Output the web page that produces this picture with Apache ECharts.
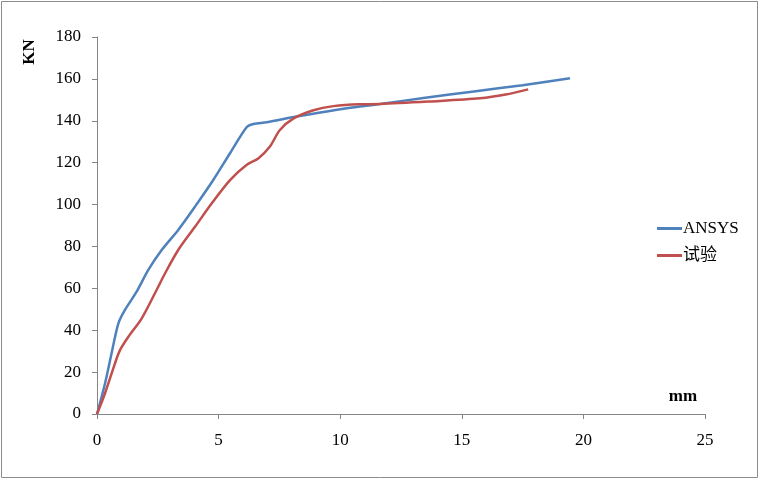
<!DOCTYPE html>
<html><head><meta charset="utf-8">
<script src="https://cdn.jsdelivr.net/npm/echarts@6/dist/echarts.min.js"></script>
<style>html,body{margin:0;padding:0;background:#fff;overflow:hidden}#c{width:760px;height:480px}</style>
</head><body><div id="c"></div>
<script>
var ansysX = [0, 0.33, 0.6, 0.88, 1.15, 1.63, 2.11, 2.66, 3.34, 4.03, 4.78, 5.47, 6.16, 6.43, 6.98, 8.2, 10.27, 11.64, 13.5, 15.5, 17.5, 19.45];
var ansysY = [0, 14.6, 29, 43.3, 49.7, 58.4, 68.8, 78.3, 87.9, 99, 111.7, 124.5, 137, 138.5, 139.3, 142, 146, 148, 151, 154, 157, 160.3];
var testX = [0, 0.33, 0.74, 0.95, 1.29, 1.84, 2.45, 2.8, 3.34, 4.03, 4.72, 5.47, 6.16, 6.63, 7.11, 7.52, 8.07, 8.9, 9.72, 10.8, 11.64, 13.7, 15.75, 16.8, 17.73];
var testY = [0, 9.9, 24.2, 30.6, 36.9, 45.7, 59.2, 67.2, 78.3, 89.4, 100.6, 111.7, 119, 122, 127.7, 135.6, 141, 145, 147, 147.9, 148, 149.2, 150.7, 152.5, 155];
var seriesNames = ['ANSYS', '试验'];
var xTicks = {min: 0, max: 25, interval: 5};
var yTicks = {min: 0, max: 180, interval: 20};

function pairs(xs, ys){ return xs.map(function(x,i){return [x, ys[i]];}); }
var FONT = '"Liberation Serif", "Noto Sans CJK SC", serif';
var chart = echarts.init(document.getElementById('c'));
chart.setOption({
  animation: false,
  backgroundColor: '#fff',
  grid: {left: 97, right: 55, top: 37, bottom: 66},
  xAxis: {type: 'value', min: xTicks.min, max: xTicks.max, interval: xTicks.interval,
    splitLine: {show: false},
    axisLine: {lineStyle: {color: '#868686', width: 1}},
    axisTick: {show: true, length: 5, lineStyle: {color: '#868686'}},
    axisLabel: {color: '#000', fontFamily: FONT, fontSize: 17, margin: 18}},
  yAxis: {type: 'value', min: yTicks.min, max: yTicks.max, interval: yTicks.interval,
    splitLine: {show: false},
    axisLine: {show: true, lineStyle: {color: '#868686', width: 1}},
    axisTick: {show: true, length: 5, lineStyle: {color: '#868686'}},
    axisLabel: {color: '#000', fontFamily: FONT, fontSize: 17, margin: 16}},
  legend: {orient: 'vertical', left: 652, top: 215, itemGap: 10,
    icon: 'rect', itemWidth: 25, itemHeight: 3,
    textStyle: {fontFamily: FONT, fontSize: 17, color: '#000', padding: [0,0,0,-4]},
    data: seriesNames},
  series: [
    {name: seriesNames[0], type: 'line', data: pairs(ansysX, ansysY), smooth: 0.3, showSymbol: false,
     lineStyle: {color: '#4F81BD', width: 2.5}, itemStyle: {color: '#4F81BD'}},
    {name: seriesNames[1], type: 'line', data: pairs(testX, testY), smooth: 0.3, showSymbol: false,
     lineStyle: {color: '#C0504D', width: 2.5}, itemStyle: {color: '#C0504D'}}
  ],
  graphic: [
    {type: 'rect', shape: {x: 1.5, y: 1.5, width: 756, height: 476}, style: {fill: 'none', stroke: '#8c8c8c', lineWidth: 1}, silent: true, z: 100},
    {type: 'text', x: 30, y: 52, rotation: Math.PI/2, style: {text: 'KN', font: 'bold 17px "Liberation Serif", serif', fill: '#000', align: 'center', verticalAlign: 'middle'}},
    {type: 'text', x: 683, y: 397, style: {text: 'mm', font: 'bold 17px "Liberation Serif", serif', fill: '#000', align: 'center', verticalAlign: 'middle'}}
  ]
});
</script></body></html>
